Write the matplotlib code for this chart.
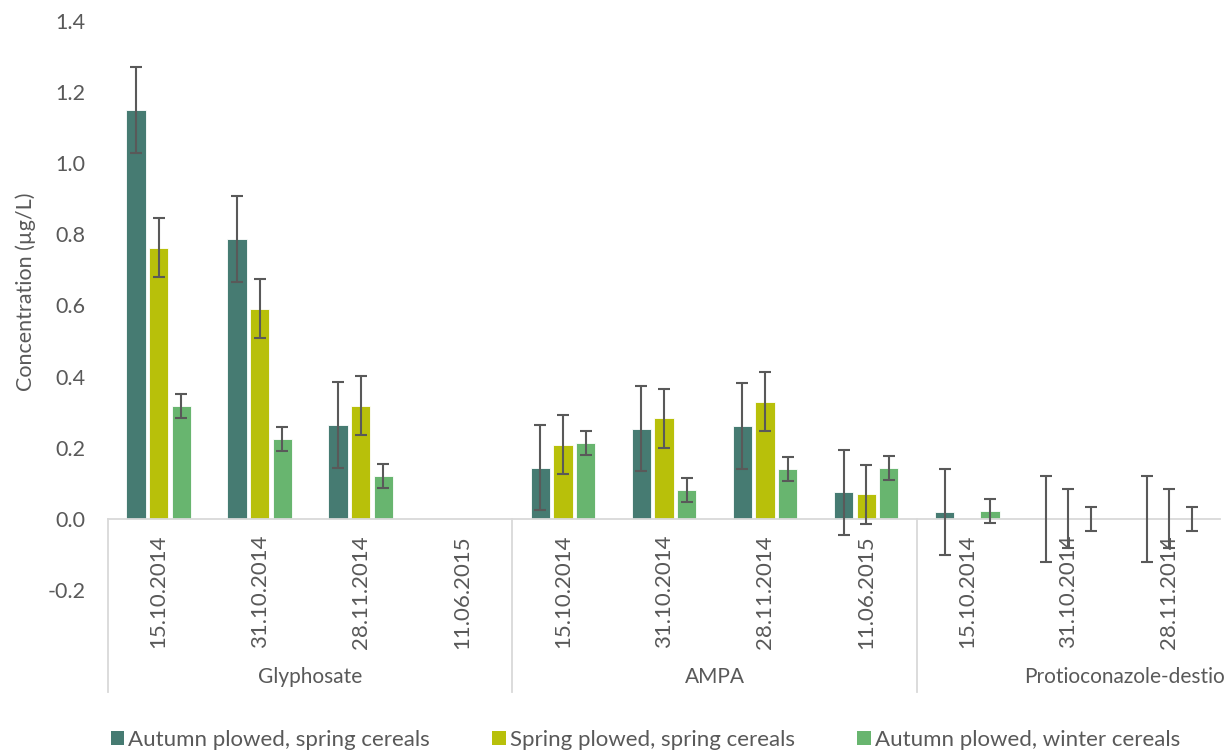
import numpy as np
import matplotlib
matplotlib.use("Agg")
import matplotlib.pyplot as plt
from matplotlib.patches import Patch

plt.rcParams['font.family'] = ['Lato', 'DejaVu Sans']

# category axis: compound groups with sampling dates
compounds = ["Glyphosate", "AMPA", "Protioconazole-destio"]
glyphosate_dates = ["15.10.2014", "31.10.2014", "28.11.2014", "11.06.2015"]
ampa_dates = ["15.10.2014", "31.10.2014", "28.11.2014", "11.06.2015"]
protio_dates = ["15.10.2014", "31.10.2014", "28.11.2014"]

series_names = ["Autumn plowed, spring cereals", "Spring plowed, spring cereals",
                "Autumn plowed, winter cereals"]

nan = np.nan
autumn_spring = [1.15, 0.787, 0.264, nan, 0.144, 0.254, 0.261, 0.075, 0.019, 0.0, 0.0]
spring_spring = [0.763, 0.591, 0.318, nan, 0.208, 0.283, 0.329, 0.069, nan, 0.0, 0.0]
autumn_winter = [0.318, 0.225, 0.121, nan, 0.213, 0.082, 0.141, 0.142, 0.023, 0.0, 0.0]

err_autumn_spring = [0.12, 0.12, 0.12, nan, 0.12, 0.12, 0.12, 0.12, 0.12, 0.12, 0.12]
err_spring_spring = [0.083, 0.083, 0.083, nan, 0.083, 0.083, 0.083, 0.083, nan, 0.083, 0.083]
err_autumn_winter = [0.034, 0.034, 0.034, nan, 0.034, 0.034, 0.034, 0.034, 0.034, 0.034, 0.034]

colors = ['#467B72', '#B8C00A', '#68B56F']
grey = '#595959'
axis_grey = '#D9D9D9'

dates = glyphosate_dates + ampa_dates + protio_dates
group_sizes = [len(glyphosate_dates), len(ampa_dates), len(protio_dates)]
x = np.arange(len(dates))

fig = plt.figure(figsize=(12.32, 7.54), dpi=100)
ax = fig.add_axes([108 / 1232, 1 - 590 / 754, 1112 / 1232, 569 / 754])

step = 0.224
values = [autumn_spring, spring_spring, autumn_winter]
errors = [err_autumn_spring, err_spring_spring, err_autumn_winter]
for i, (vals, errs, c) in enumerate(zip(values, errors, colors)):
    xs = x + (i - 1) * step
    ax.bar(xs, vals, width=0.19, color=c, edgecolor='white', linewidth=0.6, zorder=2)
    ax.errorbar(xs, vals, yerr=errs, fmt='none', ecolor=grey, elinewidth=1.5,
                capsize=4.3, capthick=1.5, zorder=3, clip_on=False)

ax.set_xlim(-0.5, len(dates) - 0.5)
ax.set_ylim(-0.2, 1.4)
ticks = np.arange(-0.2, 1.41, 0.2)
ax.set_yticks(ticks)
ax.set_yticklabels([f"{t:.1f}" for t in ticks])
ax.tick_params(axis='y', length=0, pad=16, labelsize=15.5, labelcolor=grey)
ax.set_xticks([])
for s in ['left', 'right', 'top']:
    ax.spines[s].set_visible(False)
ax.spines['bottom'].set_position(('data', 0))
ax.spines['bottom'].set_color(axis_grey)
ax.spines['bottom'].set_linewidth(1.3)
ax.set_ylabel("Concentration (µg/L)", fontsize=15.5, color=grey)
ax.yaxis.set_label_coords(-0.065, 0.525)

# multi-level category labels
for xi, d in zip(x, dates):
    ax.text(xi, -0.045, d, rotation=90, ha='center', va='top', fontsize=16,
            color=grey, clip_on=False, zorder=1)

bounds = np.concatenate([[0], np.cumsum(group_sizes)]) - 0.5
for b in bounds[:-1]:
    ax.plot([b, b], [0, -0.486], color=axis_grey, lw=1.3, clip_on=False)
for k, name in enumerate(compounds):
    if k < len(compounds) - 1:
        ax.text((bounds[k] + bounds[k + 1]) / 2, -0.444, name, ha='center', va='center',
                fontsize=15, color=grey, clip_on=False)
    else:
        ax.text(bounds[-1] + 0.05, -0.444, name, ha='right', va='center',
                fontsize=15, color=grey, clip_on=False)

handles = [Patch(facecolor=c, edgecolor='none') for c in colors]
fig.legend(handles, series_names, loc='center', bbox_to_anchor=(0.524, 0.019), ncol=3,
           frameon=False, fontsize=16, labelcolor=grey, handlelength=0.6,
           handleheight=0.6, handletextpad=0.2, columnspacing=2.8)

fig.savefig("out.png", dpi=100)
